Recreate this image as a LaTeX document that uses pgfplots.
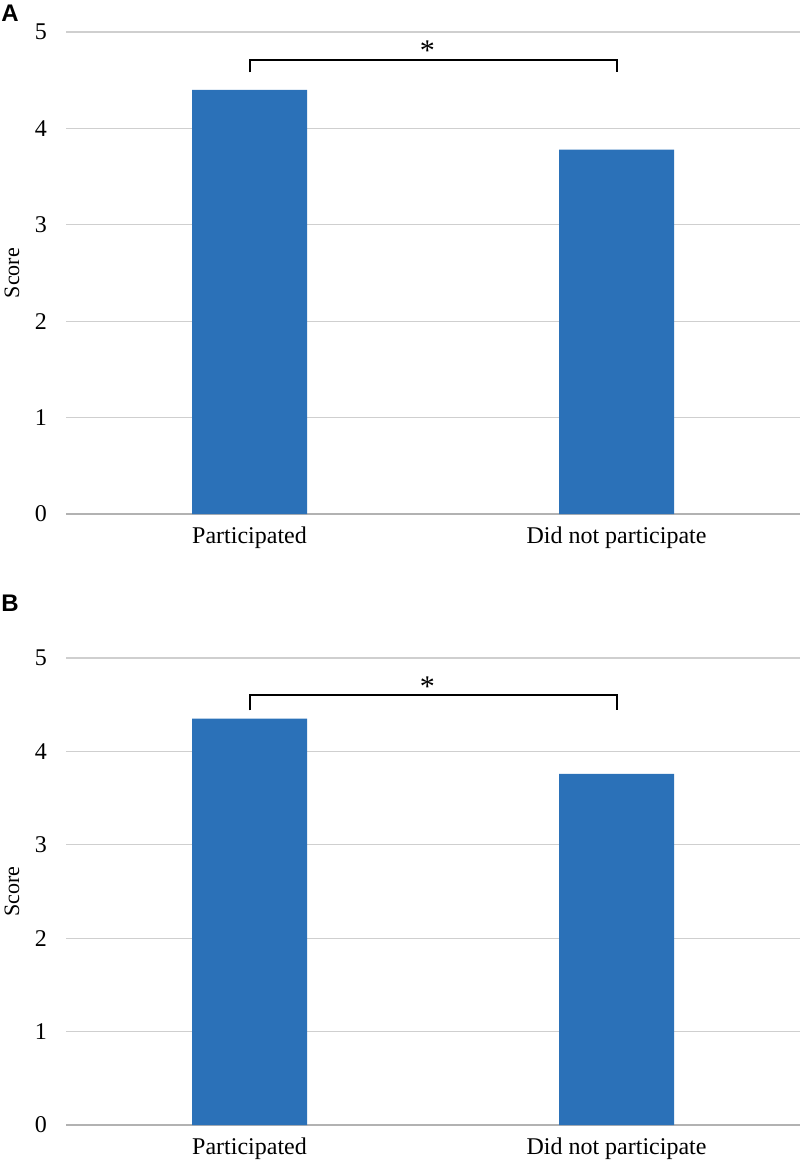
\documentclass[border=0pt]{standalone}
\usepackage{pgfplots}
\pgfplotsset{compat=1.18}
\usepackage{fontspec}
\setmainfont{Liberation Serif}
\newfontfamily\panelfont{Liberation Sans}
\definecolor{barblue}{HTML}{2B71B8}
\definecolor{gridgray}{HTML}{CFCFCF}
\pgfplotsset{
 panel/.style={
  scale only axis, width=367pt,
  xmin=-0.5, xmax=1.5, ymin=0, ymax=5,
  ytick={0,1,2,3,4,5}, xtick={0,1},
  xticklabels={Participated, Did not participate},
  axis line style={draw=none}, tick style={draw=none},
  ymajorgrids, major grid style={gridgray, line width=0.6pt},
  tick label style={font=\fontsize{12}{14}\selectfont},
  /pgf/number format/assume math mode=true,
  yticklabel style={xshift=-6pt},
  xticklabel style={yshift=-3pt},
  clip=false,
 }
}
\begin{document}
\begin{tikzpicture}
\path[use as bounding box] (0,0) rectangle (400pt,-583.5pt);
% Panel A
\begin{axis}[panel, at={(33pt,-16pt)}, anchor=north west, height=241pt]
\draw[gray!60, line width=0.6pt] (axis cs:-0.5,0) -- (axis cs:1.5,0);
\addplot[ybar, bar width=57.5pt, fill=barblue, draw=none] coordinates {(0,4.40) (1,3.78)};
\draw[black, line width=1pt] (axis cs:0,4.58) -- (axis cs:0,4.71) -- (axis cs:1,4.71) -- (axis cs:1,4.58);
\node[anchor=base, inner sep=0, font=\fontsize{15}{16}\selectfont] at (axis cs:0.485,4.70) {*};
\node[xshift=-27pt, rotate=90, anchor=center, font=\fontsize{11}{13}\selectfont] at (axis description cs:0,0.5) {Score};
\end{axis}
\node[anchor=north west, inner sep=0, font=\panelfont\bfseries\fontsize{12}{14}\selectfont] at (0.5pt,-2.5pt) {A};
% Panel B
\begin{axis}[panel, at={(33pt,-329pt)}, anchor=north west, height=233.5pt]
\draw[gray!60, line width=0.6pt] (axis cs:-0.5,0) -- (axis cs:1.5,0);
\addplot[ybar, bar width=57.5pt, fill=barblue, draw=none] coordinates {(0,4.35) (1,3.76)};
\draw[black, line width=1pt] (axis cs:0,4.44) -- (axis cs:0,4.60) -- (axis cs:1,4.60) -- (axis cs:1,4.44);
\node[anchor=base, inner sep=0, font=\fontsize{15}{16}\selectfont] at (axis cs:0.485,4.59) {*};
\node[xshift=-27pt, rotate=90, anchor=center, font=\fontsize{11}{13}\selectfont] at (axis description cs:0,0.5) {Score};
\end{axis}
\node[anchor=north west, inner sep=0, font=\panelfont\bfseries\fontsize{12}{14}\selectfont] at (0.5pt,-297.5pt) {B};
\end{tikzpicture}
\end{document}
